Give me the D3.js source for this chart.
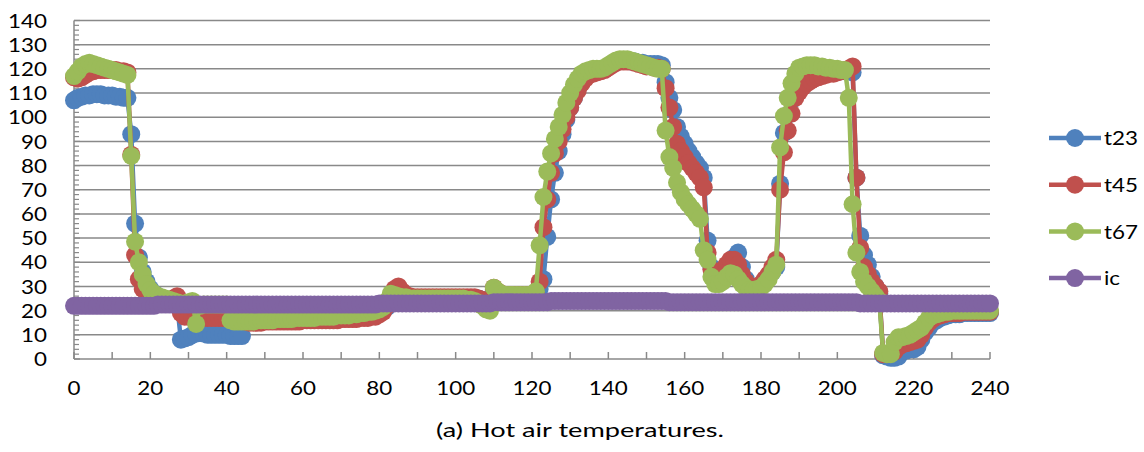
<!DOCTYPE html>
<html>
<head>
<meta charset="utf-8">
<script src="https://cdn.jsdelivr.net/npm/d3@7"></script>
<style>
body { margin: 0; background: #fff; }
svg text { font-family: Lato, "Open Sans", sans-serif; fill: #000; font-size: 20px; }
</style>
</head>
<body>
<div id="graphic"></div>
<script>
var graphic, seriesNames, seriesColors, yTickLabels, xTickLabels, t23, t45, t67, ic;

seriesNames = ["t23", "t45", "t67", "ic"];
seriesColors = ["#4f81bd", "#c0504d", "#9bbb59", "#8064a2"];
yTickLabels = [0, 10, 20, 30, 40, 50, 60, 70, 80, 90, 100, 110, 120, 130, 140];
xTickLabels = [0, 20, 40, 60, 80, 100, 120, 140, 160, 180, 200, 220, 240];

// one reading per minute, 0..240
t23 = [
  107, 108, 108.5, 109, 109, 109.5, 109.5, 109.5, 109, 109,
  109, 108.5, 108.5, 108, 108, 93, 56, 42, 36, 32,
  29, 27, 26, 25, 24, 24, 23.5, 23, 8, 8.5,
  9, 10, 10.5, 11, 10.5, 10, 10, 10, 10, 10,
  10, 9.5, 9.5, 9.5, 9.5, 15.5, 15.5, 15.5, 16, 16,
  16, 16, 16, 16.5, 16.5, 16.5, 16.5, 16.5, 17, 17,
  17, 17, 17, 17, 17.5, 17.5, 17.5, 17.5, 17.5, 18,
  18, 18, 18, 18.5, 18.5, 18.5, 19, 19, 19.5, 19.5,
  20, 20.5, 21.5, 24, 26, 27, 26, 25.5, 25.5, 25,
  25, 25, 25, 25, 25, 25, 25, 25, 25, 25,
  25, 25, 25, 25, 25, 25, 25, 24.5, 24, 23.5,
  28.5, 27, 26.5, 26, 26, 26, 26, 26, 26, 26,
  26, 27, 29, 33, 50.5, 66, 77, 86, 93, 99,
  104, 108, 112, 115, 117, 118, 118.5, 119, 119.5, 120,
  121, 122, 123, 123.5, 123.5, 123.5, 123, 123, 122.5, 122.5,
  122, 122, 122, 122, 121.5, 114.5, 108, 103, 96, 92,
  89, 86, 83.5, 81, 79, 75, 49, 38, 34, 33,
  35, 38, 40, 42, 44, 38, 33, 30, 29, 29,
  30, 32, 34, 36, 38, 72.5, 93.5, 101, 107, 111,
  113.5, 115, 116, 117, 117.5, 118, 118, 118.5, 118.5, 118.5,
  119, 119, 119, 119, 118.5, 75, 51, 43, 39, 34,
  30, 27, 1.5, 1, 0.5, 0.5, 1, 3, 3.5, 4,
  4, 5, 8, 11, 13, 15, 16, 17, 17.5, 18,
  18.5, 18.5, 18.5, 19, 19, 19, 19, 19, 19, 19,
  19
];

t45 = [
  116.5, 116, 116.5, 117.5, 118.5, 119, 119.5, 119.5, 119.5, 119.5,
  119.5, 119.5, 119, 119, 118.5, 84.5, 43, 33, 29, 27.5,
  26.5, 25.5, 25, 24.5, 24, 24, 25, 26, 19, 17.5,
  17.5, 17.5, 17, 17, 17, 17, 17, 17, 17, 17,
  17, 17, 17, 17, 16.5, 15.5, 15, 15, 15, 15,
  15.5, 15.5, 15.5, 15.5, 15.5, 15.5, 15.5, 15.5, 15.5, 15.5,
  16, 16, 16, 16, 16, 16, 16, 16, 16, 16,
  16.5, 16.5, 16.5, 16.5, 16.5, 17, 17, 17, 17.5, 17.5,
  18.5, 19.5, 22, 26, 29, 30, 28, 26.5, 26, 25.5,
  25.5, 25.5, 25.5, 25.5, 25.5, 25.5, 25.5, 25.5, 25.5, 25.5,
  25.5, 25.5, 25.5, 25.5, 25.5, 25.5, 25, 24.5, 24, 23.5,
  29.5, 28, 27, 26.5, 26.5, 26.5, 26.5, 26.5, 26.5, 26.5,
  26.5, 27, 32, 54.5, 66, 77, 85, 90, 95, 100,
  104, 108, 111, 114, 116, 117.5, 118, 118.5, 119, 119.5,
  120.5, 121.5, 122.5, 123, 123, 123, 123, 122.5, 122, 121.5,
  121, 121, 120.5, 120.5, 120, 112, 104, 96, 89, 86,
  83.5, 81, 79, 77, 75, 71, 44, 37, 33, 35,
  37, 39, 41, 41, 39, 35, 32, 30, 29.5, 30,
  31, 33, 35, 38, 41, 70, 85.5, 94.5, 101.5, 108,
  110.5, 112.5, 114, 115, 116, 116.5, 117, 117.5, 118, 118,
  118.5, 119, 119.5, 120, 121, 75, 46, 38, 35, 32,
  30, 28, 2, 2, 2.5, 3, 5, 6, 6.5, 7,
  7.5, 8, 10, 13, 15, 16.5, 17.5, 18, 18.5, 19,
  19, 19, 19, 19.5, 19.5, 19.5, 19.5, 19.5, 19.5, 19.5,
  19.5
];

t67 = [
  117, 119, 121, 122, 122.5, 122, 121.5, 121, 120.5, 120,
  119.5, 119, 118.5, 118, 117.5, 84, 48.5, 40, 35, 31,
  28.5, 27, 26, 25.5, 25, 24.5, 24, 23.5, 23, 23,
  23.5, 24, 14.5, 22, 22.5, 22.5, 22.5, 22.5, 22.5, 22.5,
  22.5, 16, 15.5, 15.5, 15.5, 15.5, 15.5, 15.5, 16, 16,
  16, 16, 16, 16.5, 16.5, 16.5, 16.5, 16.5, 17, 17,
  17, 17, 17, 17, 17.5, 17.5, 17.5, 17.5, 17.5, 18,
  18, 18, 18, 18.5, 18.5, 19, 19, 19.5, 19.5, 20,
  20.5, 21.5, 24, 27, 26.5, 26, 25.5, 25.5, 25, 25,
  25, 25, 25, 25, 25, 25, 25, 25, 25, 25,
  25, 25, 25, 24.5, 24.5, 24, 23, 22, 20.5, 20,
  29.5, 28, 27, 26.5, 26.5, 26.5, 26.5, 26.5, 26.5, 26.5,
  26.5, 28, 47, 67, 77.5, 85, 91, 96, 101, 106,
  110, 113.5, 116, 118, 119, 119.5, 120, 120, 120, 120.5,
  121.5, 122.5, 123.5, 124, 124, 124, 123.5, 123, 122.5, 122,
  121.5, 121, 120.5, 120, 120, 94.5, 83.5, 79, 73, 69,
  66, 64, 62, 60, 58, 45, 41, 34, 31, 31,
  32, 34, 35.5, 35, 33, 31, 29.5, 28.5, 28.5, 29,
  29.5, 31, 33, 36, 39, 87.5, 100.5, 108, 114, 118,
  120.5, 121, 121.5, 121.5, 121.5, 121, 121, 120.5, 120.5, 120,
  120, 119.5, 119.5, 108, 64, 44, 36, 32, 30, 28,
  26, 24, 2.5, 2, 2, 7, 9, 9, 9.5, 10,
  11, 12, 13, 15, 17, 18, 18.5, 19, 19.5, 19.5,
  20, 20, 20, 20, 20, 20, 20, 20, 20, 20,
  20
];

ic = [
  22, 22, 22, 22, 22, 22, 22, 22, 22, 22,
  22, 22, 22, 22, 22, 22, 22, 22, 22, 22,
  22, 22, 22.5, 22.5, 22.5, 22.5, 22.5, 22.5, 22.5, 22.5,
  22.5, 22.5, 22.5, 22.5, 22.5, 22.5, 22.5, 22.5, 22.5, 22.5,
  22.5, 22.5, 22.5, 22.5, 22.5, 22.5, 22.5, 22.5, 22.5, 22.5,
  22.5, 22.5, 22.5, 22.5, 22.5, 22.5, 22.5, 22.5, 22.5, 22.5,
  22.5, 22.5, 22.5, 22.5, 22.5, 22.5, 22.5, 22.5, 22.5, 22.5,
  22.5, 22.5, 22.5, 22.5, 22.5, 22.5, 22.5, 22.5, 22.5, 22.5,
  23, 23, 23, 23, 23, 23, 23, 23, 23, 23,
  23, 23, 23, 23, 23, 23, 23, 23, 23, 23,
  23, 23, 23, 23, 23, 23, 23, 23, 23, 23,
  23.5, 23.5, 23.5, 23.5, 23.5, 23.5, 23.5, 23.5, 23.5, 23.5,
  23.5, 23.5, 23.5, 23.5, 23.5, 24, 24, 24, 24, 24,
  24, 24, 24, 24, 24, 24, 24, 24, 24, 24,
  24, 24, 24, 24, 24, 24, 24, 24, 24, 24,
  24, 24, 24, 24, 24, 24, 23.5, 23.5, 23.5, 23.5,
  23.5, 23.5, 23.5, 23.5, 23.5, 23.5, 23.5, 23.5, 23.5, 23.5,
  23.5, 23.5, 23.5, 23.5, 23.5, 23.5, 23.5, 23.5, 23.5, 23.5,
  23.5, 23.5, 23.5, 23.5, 23.5, 23.5, 23.5, 23.5, 23.5, 23.5,
  23.5, 23.5, 23.5, 23.5, 23.5, 23.5, 23.5, 23.5, 23.5, 23.5,
  23.5, 23.5, 23.5, 23.5, 23.5, 23.5, 23, 23, 23, 23,
  23, 23, 23, 23, 23, 23, 23, 23, 23, 23,
  23, 23, 23, 23, 23, 23, 23, 23, 23, 23,
  23, 23, 23, 23, 23, 23, 23, 23, 23, 23,
  23
];

graphic = new Object;

// text a bit wider than the font's natural width, like the source
graphic.place = function(x, y) {
  return "translate(" + x + "," + y + ") scale(1.12,1)";
};

graphic.create = function() {
  var svg, x, y, g, line, series, legend, gridColor;
  gridColor = "#898989";
  svg = d3.select("#graphic").append("svg").attr("width", 1144).attr("height", 452);
  x = d3.scaleLinear().domain([0, 240]).range([74, 990]);
  y = d3.scaleLinear().domain([0, 140]).range([359, 20.5]);

  // horizontal gridlines
  svg.append("g").selectAll("line").data(yTickLabels).enter().append("line")
    .attr("x1", x(0)).attr("x2", x(240))
    .attr("y1", function(d) { return y(d); }).attr("y2", function(d) { return y(d); })
    .attr("stroke", gridColor).attr("stroke-width", 1.5);

  // left axis with inside ticks (major 10, minor 2)
  g = svg.append("g");
  g.append("line").attr("x1", x(0)).attr("x2", x(0)).attr("y1", y(0)).attr("y2", y(140))
    .attr("stroke", gridColor).attr("stroke-width", 1.5);
  g.selectAll("line.minor").data(y.ticks(70)).enter().append("line").attr("class", "minor")
    .attr("x1", x(0)).attr("x2", function(d) { return x(0) + (d % 10 === 0 ? 6 : 5); })
    .attr("y1", function(d) { return y(d); }).attr("y2", function(d) { return y(d); })
    .attr("stroke", gridColor).attr("stroke-width", 1.2);
  g.selectAll("text").data(yTickLabels).enter().append("text")
    .attr("transform", function(d) { return graphic.place(47, y(d)); })
    .attr("dy", "0.36em").attr("text-anchor", "end")
    .text(function(d) { return d; });

  // bottom axis, ticks every 10 pointing up
  g = svg.append("g");
  g.selectAll("line").data(x.ticks(24)).enter().append("line")
    .attr("x1", function(d) { return x(d); }).attr("x2", function(d) { return x(d); })
    .attr("y1", y(0)).attr("y2", y(0) - 7)
    .attr("stroke", gridColor).attr("stroke-width", 1.5);
  g.selectAll("text").data(xTickLabels).enter().append("text")
    .attr("transform", function(d) { return graphic.place(x(d), 388); })
    .attr("dy", "0.36em").attr("text-anchor", "middle")
    .text(function(d) { return d; });

  line = d3.line().x(function(d, i) { return x(i); }).y(function(d) { return y(d); });

  series = [t23, t45, t67, ic];
  series.forEach(function(values, k) {
    var s = svg.append("g");
    s.append("path").datum(values).attr("d", line)
      .attr("fill", "none").attr("stroke", seriesColors[k])
      .attr("stroke-width", 4.5).attr("stroke-linejoin", "round");
    s.selectAll("circle").data(values).enter().append("circle")
      .attr("cx", function(d, i) { return x(i); })
      .attr("cy", function(d) { return y(d); })
      .attr("r", 9).attr("fill", seriesColors[k]);
  });

  // legend
  legend = svg.append("g").selectAll("g").data(seriesNames).enter().append("g")
    .attr("transform", function(d, i) { return "translate(0," + (138 + i * 46.7) + ")"; });
  legend.append("line").attr("x1", 1049).attr("x2", 1101)
    .attr("stroke", function(d, i) { return seriesColors[i]; }).attr("stroke-width", 4.5);
  legend.append("circle").attr("cx", 1075).attr("r", 9)
    .attr("fill", function(d, i) { return seriesColors[i]; });
  legend.append("text").attr("transform", graphic.place(1104, 0)).attr("dy", "0.36em")
    .text(function(d) { return d; });

  svg.append("text").attr("x", 580).attr("y", 430).attr("dy", "0.36em")
    .attr("text-anchor", "middle")
    .attr("textLength", 288).attr("lengthAdjust", "spacingAndGlyphs")
    .text("(a) Hot air temperatures.");
};

graphic.create();
</script>
</body>
</html>
